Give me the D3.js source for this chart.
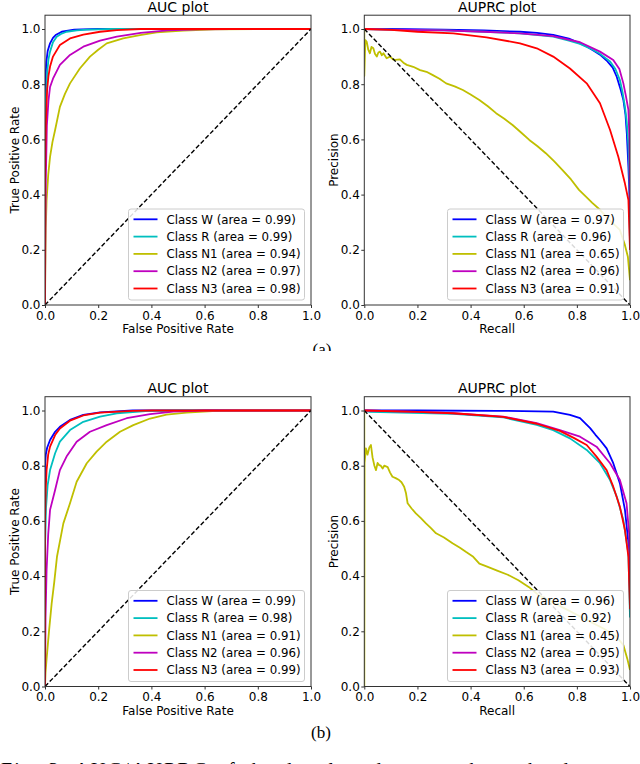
<!DOCTYPE html>
<html><head><meta charset="utf-8">
<script src="https://cdn.jsdelivr.net/npm/d3@7"></script>
<style>html,body{margin:0;padding:0;background:#fff;overflow:hidden}</style>
</head><body><svg id="c" width="640" height="764" style="display:block"></svg>
<script>
// ---------------- DATA ----------------
const classNames = ["W", "R", "N1", "N2", "N3"];
const tickValues = [0, 0.2, 0.4, 0.6, 0.8, 1.0];
const aucA = [0.99, 0.99, 0.94, 0.97, 0.98];
const auprcA = [0.97, 0.96, 0.65, 0.96, 0.91];
const aucB = [0.99, 0.98, 0.91, 0.96, 0.99];
const auprcB = [0.96, 0.92, 0.45, 0.95, 0.93];
const rocDiag = [[0, 0], [1, 1]];
const prDiag = [[0, 1], [1, 0]];

// (a) ROC curves [fpr, tpr]
const rocA_W = [[0,0],[0,0.72],[0.002,0.82],[0.005,0.88],[0.01,0.92],[0.019,0.948],[0.03,0.968],[0.04,0.978],[0.063,0.99],[0.11,0.998],[0.2,1],[1,1]];
const rocA_R = [[0,0],[0,0.6],[0.003,0.74],[0.008,0.84],[0.013,0.89],[0.019,0.918],[0.03,0.952],[0.044,0.972],[0.06,0.982],[0.081,0.99],[0.12,0.995],[0.157,0.998],[0.25,1],[1,1]];
const rocA_N1 = [[0,0],[0.001,0.12],[0.003,0.28],[0.006,0.38],[0.012,0.47],[0.019,0.537],[0.028,0.59],[0.038,0.634],[0.056,0.718],[0.075,0.765],[0.094,0.803],[0.131,0.857],[0.169,0.9],[0.2,0.925],[0.232,0.948],[0.294,0.966],[0.357,0.978],[0.42,0.988],[0.52,0.994],[0.64,0.999],[0.8,1],[1,1]];
const rocA_N2 = [[0,0],[0.001,0.2],[0.003,0.45],[0.007,0.65],[0.013,0.74],[0.019,0.79],[0.03,0.82],[0.056,0.87],[0.094,0.906],[0.144,0.936],[0.207,0.958],[0.27,0.972],[0.36,0.986],[0.46,0.995],[0.58,0.999],[0.7,1],[1,1]];
const rocA_N3 = [[0,0],[0,0.45],[0.003,0.65],[0.008,0.78],[0.013,0.83],[0.019,0.864],[0.03,0.9],[0.056,0.942],[0.094,0.966],[0.144,0.98],[0.207,0.99],[0.27,0.996],[0.36,1],[1,1]];

// (a) PR curves [recall, precision]
const prA_W = [[0,1],[0.1,1],[0.3,0.998],[0.45,0.995],[0.586,0.99],[0.65,0.986],[0.711,0.979],[0.77,0.965],[0.812,0.948],[0.84,0.935],[0.862,0.922],[0.89,0.905],[0.912,0.886],[0.935,0.86],[0.95,0.827],[0.965,0.78],[0.975,0.743],[0.983,0.69],[0.988,0.622],[0.994,0.5],[0.998,0.4],[1,0.2]];
const prA_R = [[0,1],[0.1,0.998],[0.3,0.995],[0.45,0.99],[0.586,0.984],[0.711,0.972],[0.77,0.958],[0.812,0.946],[0.85,0.93],[0.887,0.91],[0.925,0.882],[0.945,0.855],[0.962,0.815],[0.972,0.77],[0.981,0.718],[0.988,0.66],[0.994,0.58],[0.998,0.45],[1,0.22]];
const prA_N1 = [[0,1],[0,0.83],[0.004,0.96],[0.009,0.954],[0.015,0.925],[0.021,0.912],[0.027,0.935],[0.034,0.93],[0.04,0.91],[0.047,0.9],[0.053,0.915],[0.059,0.918],[0.066,0.905],[0.072,0.912],[0.084,0.894],[0.097,0.9],[0.108,0.89],[0.116,0.888],[0.134,0.89],[0.147,0.878],[0.16,0.87],[0.184,0.863],[0.21,0.851],[0.234,0.845],[0.258,0.833],[0.283,0.82],[0.308,0.803],[0.34,0.792],[0.371,0.779],[0.4,0.763],[0.433,0.743],[0.465,0.72],[0.496,0.695],[0.527,0.675],[0.558,0.652],[0.59,0.625],[0.621,0.598],[0.652,0.575],[0.683,0.55],[0.715,0.52],[0.746,0.489],[0.778,0.455],[0.808,0.417],[0.837,0.39],[0.858,0.37],[0.887,0.345],[0.92,0.31],[0.962,0.272],[0.98,0.22],[0.992,0.175],[1,0.09]];
const prA_N2 = [[0,1],[0.1,0.998],[0.3,0.995],[0.45,0.99],[0.586,0.984],[0.711,0.974],[0.812,0.952],[0.887,0.918],[0.937,0.888],[0.96,0.855],[0.975,0.803],[0.985,0.755],[0.994,0.707],[0.998,0.6],[1,0.2]];
const prA_N3 = [[0,1],[0.1,0.997],[0.2,0.99],[0.335,0.984],[0.46,0.97],[0.586,0.948],[0.649,0.93],[0.711,0.9],[0.774,0.857],[0.837,0.803],[0.887,0.731],[0.925,0.634],[0.956,0.537],[0.981,0.44],[0.994,0.38],[1,0.2]];

// (b) ROC curves
const rocB_W = [[0,0],[0,0.8],[0.003,0.84],[0.008,0.865],[0.019,0.893],[0.038,0.923],[0.056,0.941],[0.094,0.966],[0.144,0.984],[0.207,0.993],[0.33,1],[1,1]];
const rocB_R = [[0,0],[0,0.5],[0.004,0.65],[0.01,0.73],[0.019,0.784],[0.038,0.845],[0.056,0.887],[0.094,0.929],[0.144,0.959],[0.207,0.978],[0.27,0.99],[0.39,0.999],[0.5,1],[1,1]];
const rocB_N1 = [[0,0],[0.002,0.05],[0.006,0.1],[0.015,0.2],[0.025,0.3],[0.035,0.38],[0.045,0.47],[0.069,0.591],[0.094,0.664],[0.119,0.742],[0.157,0.809],[0.194,0.851],[0.232,0.887],[0.282,0.923],[0.332,0.947],[0.395,0.971],[0.457,0.985],[0.532,0.992],[0.645,0.999],[0.75,1],[1,1]];
const rocB_N2 = [[0,0],[0.002,0.25],[0.006,0.422],[0.012,0.55],[0.019,0.64],[0.038,0.712],[0.056,0.784],[0.081,0.833],[0.119,0.887],[0.169,0.923],[0.232,0.947],[0.307,0.972],[0.395,0.987],[0.482,0.996],[0.6,1],[1,1]];
const rocB_N3 = [[0,0],[0,0.6],[0.003,0.72],[0.006,0.784],[0.012,0.84],[0.019,0.869],[0.038,0.911],[0.056,0.935],[0.094,0.963],[0.144,0.982],[0.207,0.992],[0.33,0.999],[0.4,1],[1,1]];

// (b) PR curves
const prB_W = [[0,1],[0.2,1],[0.5,0.999],[0.711,0.996],[0.774,0.984],[0.812,0.972],[0.83,0.955],[0.85,0.936],[0.87,0.912],[0.887,0.893],[0.912,0.863],[0.937,0.809],[0.962,0.736],[0.981,0.64],[0.994,0.52],[1,0.35]];
const prB_R = [[0,1],[0.02,0.995],[0.1,0.993],[0.335,0.988],[0.523,0.975],[0.649,0.948],[0.711,0.929],[0.774,0.899],[0.837,0.857],[0.887,0.809],[0.925,0.748],[0.95,0.688],[0.975,0.603],[0.994,0.48],[1,0.25]];
const prB_N1 = [[0,1],[0,0],[0.001,0.81],[0.006,0.863],[0.012,0.84],[0.019,0.866],[0.025,0.875],[0.031,0.83],[0.038,0.8],[0.044,0.784],[0.05,0.81],[0.056,0.802],[0.062,0.8],[0.069,0.79],[0.075,0.8],[0.088,0.795],[0.097,0.775],[0.106,0.76],[0.118,0.755],[0.131,0.748],[0.14,0.74],[0.15,0.724],[0.157,0.7],[0.163,0.664],[0.178,0.645],[0.194,0.627],[0.213,0.61],[0.232,0.591],[0.25,0.575],[0.27,0.555],[0.3,0.54],[0.332,0.519],[0.36,0.503],[0.382,0.488],[0.41,0.47],[0.433,0.445],[0.46,0.435],[0.5,0.42],[0.54,0.405],[0.58,0.385],[0.62,0.36],[0.657,0.33],[0.7,0.31],[0.75,0.285],[0.8,0.26],[0.85,0.235],[0.9,0.21],[0.95,0.18],[0.975,0.15],[0.99,0.1],[1,0.06]];
const prB_N2 = [[0,1],[0.2,0.995],[0.335,0.99],[0.523,0.978],[0.649,0.954],[0.736,0.929],[0.812,0.905],[0.874,0.869],[0.925,0.809],[0.962,0.748],[0.987,0.664],[0.997,0.55],[1,0.3]];
const prB_N3 = [[0,1],[0.2,0.995],[0.335,0.99],[0.523,0.977],[0.649,0.952],[0.736,0.926],[0.79,0.9],[0.837,0.875],[0.874,0.833],[0.912,0.784],[0.937,0.724],[0.962,0.651],[0.981,0.567],[0.994,0.47],[1,0.28]];

// ---------------- DRAWING ----------------
const colors = ["#0000ff", "#00bfbf", "#bfbf00", "#bf00bf", "#ff0000"];
const svg = d3.select("#c");
const FONT = "'DejaVu Sans', sans-serif";
const colX = [[45, 311], [364.3, 630]];
const rowY = [[305, 29], [686.5, 410.5]];

const panels = [
  {col:0,row:0,title:"AUC plot",xlabel:"False Positive Rate",ylabel:"True Positive Rate",series:[rocA_W,rocA_R,rocA_N1,rocA_N2,rocA_N3],areas:aucA,diag:rocDiag},
  {col:1,row:0,title:"AUPRC plot",xlabel:"Recall",ylabel:"Precision",series:[prA_W,prA_R,prA_N1,prA_N2,prA_N3],areas:auprcA,diag:prDiag},
  {col:0,row:1,title:"AUC plot",xlabel:"False Positive Rate",ylabel:"True Positive Rate",series:[rocB_W,rocB_R,rocB_N1,rocB_N2,rocB_N3],areas:aucB,diag:rocDiag},
  {col:1,row:1,title:"AUPRC plot",xlabel:"Recall",ylabel:"Precision",series:[prB_W,prB_R,prB_N1,prB_N2,prB_N3],areas:auprcB,diag:prDiag}
];

const defs = svg.append("defs");

panels.forEach((p, pi) => {
  const [xa, xb] = colX[p.col];
  const [ya, yb] = rowY[p.row];
  const x = d3.scaleLinear([0, 1], [xa, xb]);
  const y = d3.scaleLinear([0, 1], [ya, yb]);
  const top = y(1.05);
  const cid = "clip" + pi;
  defs.append("clipPath").attr("id", cid).append("rect")
    .attr("x", xa).attr("y", top).attr("width", xb - xa).attr("height", ya - top);
  const g = svg.append("g");
  const line = d3.line().x(d => x(d[0])).y(d => y(d[1]));
  const cg = g.append("g").attr("clip-path", `url(#${cid})`);
  p.series.forEach((s, i) => {
    cg.append("path").attr("d", line(s)).attr("fill", "none")
      .attr("stroke", colors[i]).attr("stroke-width", 1.8)
      .attr("stroke-linejoin", "round").attr("stroke-linecap", "butt");
  });
  cg.append("path").attr("d", line(p.diag)).attr("fill", "none")
    .attr("stroke", "#000").attr("stroke-width", 1.4).attr("stroke-dasharray", "4.5,2.3");

  // frame
  g.append("rect").attr("x", xa).attr("y", top).attr("width", xb - xa).attr("height", ya - top)
    .attr("fill", "none").attr("stroke", "#333").attr("stroke-width", 1);

  // axes
  const ax = g.append("g").attr("transform", `translate(0,${ya})`)
    .call(d3.axisBottom(x).tickValues(tickValues).tickFormat(d3.format(".1f")).tickSize(3).tickPadding(3));
  const ay = g.append("g").attr("transform", `translate(${xa},0)`)
    .call(d3.axisLeft(y).tickValues(tickValues).tickFormat(d3.format(".1f")).tickSize(3).tickPadding(1.5));
  [ax, ay].forEach(a => {
    a.select(".domain").remove();
    a.attr("font-family", FONT).attr("font-size", 12);
    a.selectAll("line").attr("stroke", "#333");
    a.selectAll("text").attr("fill", "#000");
  });

  // title & labels
  const cx = (xa + xb) / 2;
  g.append("text").attr("x", cx).attr("y", ya - 293.5).attr("text-anchor", "middle")
    .attr("font-family", FONT).attr("font-size", 14).attr("fill", "#000").text(p.title);
  g.append("text").attr("x", cx).attr("y", ya + 28).attr("text-anchor", "middle")
    .attr("font-family", FONT).attr("font-size", 12).attr("fill", "#000").text(p.xlabel);
  const ly = (ya + top) / 2;
  g.append("text").attr("transform", `translate(${xa - 26.5},${ly}) rotate(-90)`)
    .attr("text-anchor", "middle").attr("font-family", FONT).attr("font-size", 12)
    .attr("fill", "#000").text(p.ylabel);

  // legend
  const lw = 176, lh = 91;
  const lx = xb - 6.5 - lw, lyTop = ya - 5 - lh;
  const lg = g.append("g");
  lg.append("rect").attr("x", lx).attr("y", lyTop).attr("width", lw).attr("height", lh)
    .attr("rx", 2.5).attr("fill", "#fff").attr("fill-opacity", 0.85)
    .attr("stroke", "#cccccc").attr("stroke-width", 1);
  classNames.forEach((c, i) => {
    const ey = lyTop + 10.3 + i * 17.3;
    lg.append("line").attr("x1", lx + 5).attr("x2", lx + 29).attr("y1", ey).attr("y2", ey)
      .attr("stroke", colors[i]).attr("stroke-width", 1.8);
    lg.append("text").attr("x", lx + 38).attr("y", ey).attr("dy", "0.36em")
      .attr("font-family", FONT).attr("font-size", 11.8).attr("fill", "#000")
      .text(`Class ${c} (area = ${d3.format(".2f")(p.areas[i])})`);
  });
});

// sub-captions
const SERIF = "'Liberation Serif', 'Times New Roman', serif";
defs.append("clipPath").attr("id", "clipA").append("rect")
  .attr("x", 280).attr("y", 330).attr("width", 80).attr("height", 21);
svg.append("text").attr("x", 322).attr("y", 355).attr("text-anchor", "middle")
  .attr("clip-path", "url(#clipA)")
  .attr("font-family", SERIF).attr("font-size", 17).attr("fill", "#000").text("(a)");
svg.append("text").attr("x", 321).attr("y", 738).attr("text-anchor", "middle")
  .attr("font-family", SERIF).attr("font-size", 17).attr("fill", "#000").text("(b)");
svg.append("text").attr("x", 1).attr("y", 777)
  .attr("font-family", SERIF).attr("font-size", 20).attr("fill", "#000")
  .attr("textLength", 636).attr("lengthAdjust", "spacing")
  .text("Fig. 3: AUC/AUPRC of the developed approach on the datasets");
</script>
</body></html>
